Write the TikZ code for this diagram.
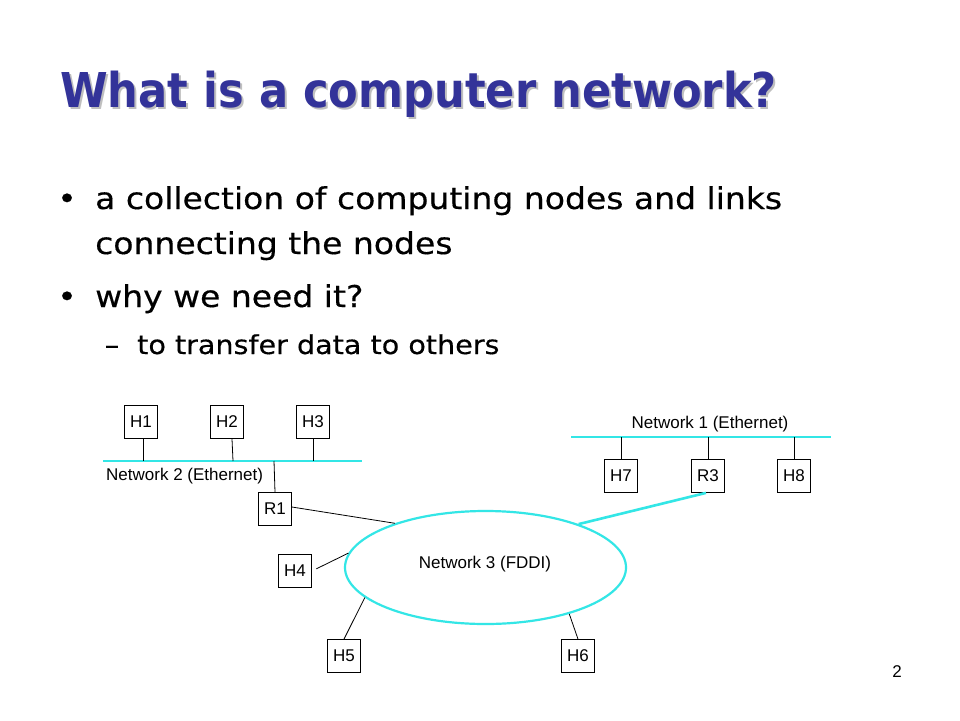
\documentclass[tikz,border=0pt]{standalone}
\usepackage{fontspec}
\setmainfont{DejaVu Sans}
\newfontfamily\bodyfont[FakeStretch=1.1, FakeBold=0.4]{DejaVu Sans}
\newfontfamily\titlefont[FakeStretch=0.9]{DejaVu Sans}
\newfontfamily\netfont{Liberation Sans}
\usepackage{tikz}
\usetikzlibrary{shapes, shadows, arrows}
\definecolor{netcyan}{RGB}{51,230,230}
\definecolor{titleblue}{RGB}{51,51,153}
\tikzstyle{block}=[draw, rectangle, minimum size=33pt, inner sep=0pt, line width=0.8pt, font=\netfont\fontsize{17}{20}\selectfont]
\tikzstyle{txt}=[anchor=base west, inner sep=0pt]
\tikzstyle{lan}=[draw=netcyan, line width=2.6pt]
\tikzstyle{wire}=[draw=black, line width=0.8pt]

\begin{document}
\begin{tikzpicture}[x=1pt, y=-1pt]
		\useasboundingbox[fill=white] (0,0) rectangle (960,720);
		%---------------------
		\node[txt, text=black!25, font=\titlefont\bfseries\fontsize{48}{56}\selectfont] (titleshadow) at (62,109) {What is a computer network?};
		\node[txt, text=titleblue, font=\titlefont\bfseries\fontsize{48}{56}\selectfont] (title) at (60,107) {What is a computer network?};
		%---------------------
		\node[anchor=base, font=\bodyfont\fontsize{30}{36}\selectfont, inner sep=0pt] (bullet1) at (67,209) {•};
		\node[txt, font=\bodyfont\fontsize{30}{36}\selectfont] (line1) at (95,209) {a collection of computing nodes and links};
		\node[txt, font=\bodyfont\fontsize{30}{36}\selectfont] (line2) at (95,254) {connecting the nodes};
		\node[anchor=base, font=\bodyfont\fontsize{30}{36}\selectfont, inner sep=0pt] (bullet2) at (67,307) {•};
		\node[txt, font=\bodyfont\fontsize{30}{36}\selectfont] (line3) at (95,307) {why we need it?};
		\node[anchor=base, font=\bodyfont\fontsize{26}{30}\selectfont, inner sep=0pt] (dash1) at (112,354) {–};
		\node[txt, font=\bodyfont\fontsize{26}{30}\selectfont] (line4) at (137,354) {to transfer data to others};
		%---------------------
		% network 2
		\coordinate (net2l) at (103,461);
		\coordinate (net2r) at (362,461);
		\draw[lan] (net2l) -- (net2r);
		\node[anchor=west, inner sep=0pt, font=\netfont\fontsize{17}{20}\selectfont] (net2label) at (106,476) {Network 2 (Ethernet)};
		\node[block] (H1) at (141,422) {H1};
		\node[block] (H2) at (227,422) {H2};
		\node[block] (H3) at (313,422) {H3};
		\node[block] (R1) at (275,509) {R1};
		\draw[wire] ([xshift=2pt]H1.south) -- ([xshift=2pt]H1.south |- net2l);
		\draw[wire] ([xshift=5pt]H2.south) -- ([xshift=6pt]H2.south |- net2l);
		\draw[wire] (H3.south) -- (H3.south |- net2l);
		\draw[wire] ([xshift=-1pt]R1.north |- net2l) -- (R1.north);
		%---------------------
		% network 1
		\coordinate (net1l) at (571,437);
		\coordinate (net1r) at (831,437);
		\draw[lan] (net1l) -- (net1r);
		\node[font=\netfont\fontsize{17}{20}\selectfont, inner sep=0pt] (net1label) at (710,424) {Network 1 (Ethernet)};
		\node[block] (H7) at (621,476) {H7};
		\node[block] (R3) at (708,476) {R3};
		\node[block] (H8) at (794,476) {H8};
		\draw[wire] (H7.north |- net1l) -- (H7.north);
		\draw[wire] (R3.north |- net1l) -- (R3.north);
		\draw[wire] (H8.north |- net1l) -- (H8.north);
		%---------------------
		% network 3
		\node[ellipse, draw=netcyan, line width=2.2pt, minimum width=281pt, minimum height=113pt, inner sep=0pt] (net3) at (485.5,567.5) {};
		\node[font=\netfont\fontsize{17}{20}\selectfont, inner sep=0pt] (net3label) at (485,564) {Network 3 (FDDI)};
		\node[block] (H4) at (295,571) {H4};
		\node[block] (H5) at (344,656) {H5};
		\node[block] (H6) at (578,656) {H6};
		\draw[wire] ([yshift=2pt]R1.east) -- (net3.154);
		\draw[lan] ([xshift=-2pt]R3.south) -- (net3.25);
		\draw[wire, shorten <=5pt] (H4.east) -- (net3.174);
		\draw[wire] (H5.north) -- (net3.194);
		\draw[wire] (H6.north) -- (net3.331);
		%---------------------
		\node[font=\netfont\fontsize{17}{20}\selectfont, inner sep=0pt] (pagenum) at (897,672) {2};
	\end{tikzpicture}
\end{document}
